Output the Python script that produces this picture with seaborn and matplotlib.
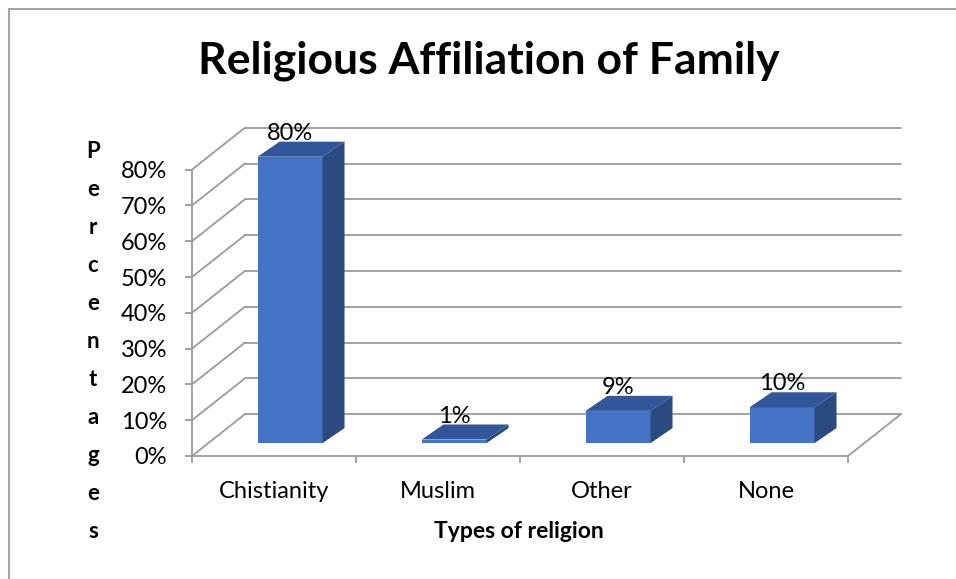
import pandas as pd
import seaborn as sns
import matplotlib.pyplot as plt
from matplotlib.patches import Polygon

# data
religions = ['Chistianity', 'Muslim', 'Other', 'None']
percentages = [80, 1, 9, 10]
y_ticks = [0, 10, 20, 30, 40, 50, 60, 70, 80]

df = pd.DataFrame({'Religion': religions, 'Percent': percentages})

sns.set_theme(style='white')
plt.rcParams['font.family'] = ['Lato', 'DejaVu Sans']
plt.rcParams['text.color'] = 'black'

W, H = 956, 579
fig = plt.figure(figsize=(W / 100, H / 100), dpi=100)
ax = fig.add_axes([192 / W, 1 - 456 / H, 713 / W, 329 / H])

# fake 3d: depth of the floor/walls and of the bars (in data units)
DX, DY = 0.323, 11.7
FX, FY = 0.098, 3.6
BDX, BDY = 0.134, 4.2

grid_c = '#9a9a9a'
front_c = '#4472C4'
top_c = '#31579A'
side_c = '#2A4A80'

# walls / gridlines
x0, x1 = -0.5, len(religions) - 0.5
for v in y_ticks:
    ax.plot([x0, x0 + DX], [v, v + DY], color=grid_c, lw=1.3, zorder=1)
    ax.plot([x0 + DX, x1 + DX], [v + DY, v + DY], color=grid_c, lw=1.3, zorder=1)
ax.plot([x1, x1 + DX], [0, DY], color=grid_c, lw=1.3, zorder=1)

sns.barplot(data=df, x='Religion', y='Percent', color=front_c, saturation=1,
            width=0.396, ax=ax, zorder=3)

for p, v in zip(ax.patches, percentages):
    p.set_x(p.get_x() + FX)
    p.set_y(FY)
    p.set_linewidth(0)
    bx0 = p.get_x()
    bx1 = bx0 + p.get_width()
    by0 = FY
    by1 = FY + p.get_height()
    top = Polygon([(bx0, by1), (bx1, by1), (bx1 + BDX, by1 + BDY), (bx0 + BDX, by1 + BDY)],
                  closed=True, facecolor=top_c, edgecolor='none', zorder=3)
    side = Polygon([(bx1, by0), (bx1 + BDX, by0 + BDY), (bx1 + BDX, by1 + BDY), (bx1, by1)],
                   closed=True, facecolor=side_c, edgecolor='none', zorder=3)
    ax.add_patch(top)
    ax.add_patch(side)
    ax.text((bx0 + bx1) / 2, by1 + BDY + 0.5, f'{v}%', ha='center', va='baseline',
            fontsize=17, color='black', zorder=4)

ax.set_xlim(x0, x0 + 713 / 164)
ax.set_ylim(0, 329 / 3.58)

for s in ['top', 'right']:
    ax.spines[s].set_visible(False)
for s in ['left', 'bottom']:
    ax.spines[s].set_color(grid_c)
    ax.spines[s].set_linewidth(1.3)
ax.spines['left'].set_bounds(0, 80)
ax.spines['bottom'].set_bounds(x0, x1)

ax.set_yticks(y_ticks)
ax.set_yticklabels([f'{v}%' for v in y_ticks])
ax.set_xticks(range(len(religions)))
ax.set_xticklabels(religions)
ax.set_xticks([i - 0.5 for i in range(len(religions) + 1)], minor=True)
ax.tick_params(axis='y', length=5, width=1.3, color=grid_c, pad=13, labelsize=17,
               labelcolor='black', left=True)
ax.tick_params(axis='x', which='major', length=0, pad=18, labelsize=17, labelcolor='black')
ax.tick_params(axis='x', which='minor', length=5, width=1.3, color=grid_c, bottom=True)
ax.set_xlabel('')
ax.set_ylabel('')

# titles
fig.text(489 / W, 1 - 61 / H, 'Religious Affiliation of Family', ha='center', va='center',
         fontsize=32, fontweight='bold', color='black')
fig.text(519 / W, 1 - 532 / H, 'Types of religion', ha='center', va='center',
         fontsize=16.5, fontweight='bold', color='black')
fig.text(93 / W, 1 - 342 / H, '\n'.join('Percentages'), ha='center', va='center',
         fontsize=16, fontweight='bold', linespacing=2.0, color='black')

# chart border (top and left only visible)
fig.add_artist(plt.Line2D([9 / W, 1], [1 - 9 / H, 1 - 9 / H], color='#a6a6a6', lw=1.5))
fig.add_artist(plt.Line2D([9 / W, 9 / W], [1 - 9 / H, 0], color='#a6a6a6', lw=1.5))

fig.savefig('out.png', dpi=100)
